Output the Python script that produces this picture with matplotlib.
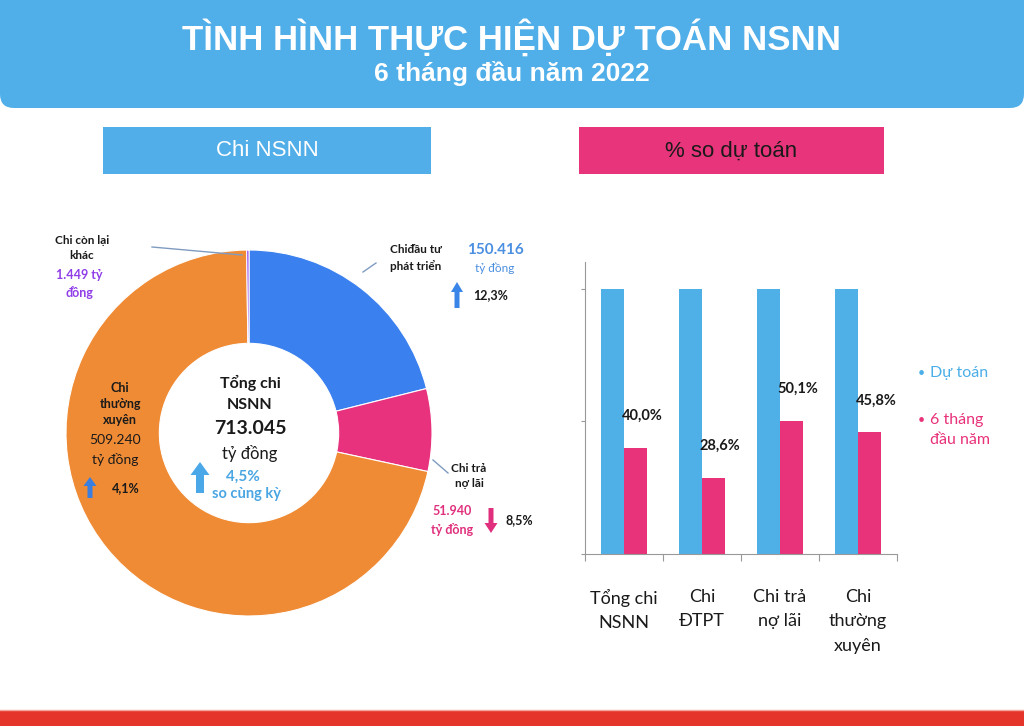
import numpy as np
import matplotlib.pyplot as plt
from matplotlib.patches import FancyBboxPatch, Rectangle, FancyArrow

plt.rcParams['font.family'] = ['Lato', 'Open Sans', 'DejaVu Sans']

# du lieu
ten_khoan_chi = ["Chi đầu tư phát triển", "Chi trả nợ lãi", "Chi thường xuyên", "Chi còn lại khác"]
gia_tri_chi = [150416, 51940, 509240, 1449]
mau_chi = ["#3b80ef", "#e8327d", "#ef8b35", "#8b3bea"]
tong_chi = 713045

nhom_cot = ["Tổng chi\nNSNN", "Chi\nĐTPT", "Chi trả\nnợ lãi", "Chi\nthường\nxuyên"]
du_toan = [100, 100, 100, 100]
sau_thang = [40.0, 28.6, 50.1, 45.8]

XANH = "#50aee9"
HONG = "#e8347a"
DEN = "#1a1a1a"

fig = plt.figure(figsize=(10.24, 7.26), dpi=100)
fig.patch.set_facecolor("white")

# lop nen, toa do pixel
nen = fig.add_axes([0, 0, 1, 1])
nen.set_xlim(0, 1024)
nen.set_ylim(726, 0)
nen.axis("off")
nen.set_zorder(10)
nen.patch.set_alpha(0)

nen.add_patch(FancyBboxPatch((0, -40), 1024, 148, boxstyle="round,pad=0,rounding_size=14",
                             fc=XANH, ec="none"))
nen.text(512, 38, "TÌNH HÌNH THỰC HIỆN DỰ TOÁN NSNN", ha="center", va="center", color="white",
         fontsize=25, fontweight="bold", family=["Liberation Sans"])
nen.text(512, 73, "6 tháng đầu năm 2022", ha="center", va="center", color="white",
         fontsize=19, fontweight="bold", family=["Liberation Sans"])

nen.add_patch(Rectangle((103, 127), 328, 47, fc="#52aee8", ec="none"))
nen.text(267, 151, "Chi NSNN", ha="center", va="center", color="white", fontsize=16,
         family=["Liberation Sans"])
nen.add_patch(Rectangle((579, 127), 305, 47, fc=HONG, ec="none"))
nen.text(731, 151, "% so dự toán", ha="center", va="center", color=DEN, fontsize=16,
         family=["Liberation Sans"])

nen.add_patch(Rectangle((0, 710), 1024, 20, fc="#e5352a", ec="none"))
nen.plot([0, 1024], [709.5, 709.5], color="#f3a59c", lw=1)

# bieu do tron
ax_tron = fig.add_axes([66 / 1024, 1 - 616 / 726, 366 / 1024, 366 / 726])
ax_tron.pie(gia_tri_chi, colors=mau_chi, startangle=90, counterclock=False,
            wedgeprops=dict(width=0.51, edgecolor="white", linewidth=0.8))
ax_tron.set_xlim(-1, 1)
ax_tron.set_ylim(-1, 1)
ax_tron.set_aspect("equal")


def so(v):
    return "{:,}".format(v).replace(",", ".")


lbl = dict(ha="center", va="center", fontsize=8.5, fontweight="bold", color=DEN, linespacing=1.5)

# chi con lai khac
nen.plot([152, 242], [247, 255], color="#7f9cc0", lw=1)
nen.text(82, 248, "Chi còn lại\nkhác", **lbl)
nen.text(79, 284, so(gia_tri_chi[3]) + " tỷ\nđồng", ha="center", va="center", fontsize=9,
         fontweight="bold", color="#8f3ee8", linespacing=1.4)

# chi dau tu phat trien
nen.plot([363, 376], [272, 263], color="#7f9cc0", lw=1)
nen.text(416, 258, "Chiđầu tư\nphát triển", **lbl)
nen.text(495, 250, so(gia_tri_chi[0]), ha="center", va="center", fontsize=11,
         fontweight="bold", color="#4b8fe0")
nen.text(495, 268, "tỷ đồng", ha="center", va="center", fontsize=8.5, color="#4b8fe0")
nen.add_patch(FancyArrow(457, 308, 0, -26, width=5, head_width=12, head_length=10,
                         length_includes_head=True, fc="#3a86e8", ec="none"))
nen.text(473, 295, "12,3%", ha="left", va="center", fontsize=9, fontweight="bold", color=DEN)

# chi tra no lai
nen.plot([433, 448], [460, 473], color="#7f9cc0", lw=1)
nen.text(469, 476, "Chi trả\nnợ lãi", **lbl)
nen.text(452, 511, so(gia_tri_chi[1]), ha="center", va="center", fontsize=9,
         fontweight="bold", color="#e0307d")
nen.text(452, 529, "tỷ đồng", ha="center", va="center", fontsize=9,
         fontweight="bold", color="#e0307d")
nen.add_patch(FancyArrow(491, 508, 0, 25, width=5, head_width=13, head_length=10,
                         length_includes_head=True, fc="#e0307d", ec="none"))
nen.text(505, 520, "8,5%", ha="left", va="center", fontsize=9, fontweight="bold", color=DEN)

# chi thuong xuyen
nen.text(120, 404, "Chi\nthường\nxuyên", ha="center", va="center", fontsize=9,
         fontweight="bold", color=DEN, linespacing=1.45)
nen.text(115, 440, so(gia_tri_chi[2]), ha="center", va="center", fontsize=10, color=DEN)
nen.text(115, 460, "tỷ đồng", ha="center", va="center", fontsize=10, color=DEN)
nen.add_patch(FancyArrow(90, 498, 0, -21, width=5, head_width=13, head_length=9,
                         length_includes_head=True, fc="#3a7fe0", ec="none"))
nen.text(112, 488, "4,1%", ha="left", va="center", fontsize=9, fontweight="bold", color=DEN)

# o giua
nen.text(250, 383, "Tổng chi", ha="center", va="center", fontsize=11.5, fontweight="bold", color=DEN)
nen.text(250, 405, "NSNN", ha="center", va="center", fontsize=11.5, fontweight="bold", color=DEN)
nen.text(250, 429, so(tong_chi), ha="center", va="center", fontsize=14, fontweight="bold", color=DEN)
nen.text(250, 454, "tỷ đồng", ha="center", va="center", fontsize=12, color=DEN)
nen.add_patch(FancyArrow(200, 493, 0, -31, width=8, head_width=19, head_length=13,
                         length_includes_head=True, fc="#4aa8e8", ec="none"))
nen.text(243, 477, "4,5%", ha="center", va="center", fontsize=11, fontweight="bold", color="#4aa6e3")
nen.text(246, 494, "so cùng kỳ", ha="center", va="center", fontsize=10.5, fontweight="bold", color="#4aa6e3")

# bieu do cot
ax = fig.add_axes([585 / 1024, 1 - 554 / 726, 312 / 1024, 292 / 726])
x = np.arange(len(nhom_cot))
w = 0.29
ax.bar(x - w / 2, du_toan, w, color="#4fb0e8")
ax.bar(x + w / 2, sau_thang, w, color="#e8327a")
for xi, v in zip(x, sau_thang):
    ax.annotate("{:.1f}%".format(v).replace(".", ","), (xi + w / 2, v), xytext=(5, 23),
                textcoords="offset points", ha="center", va="center", fontsize=10.5,
                fontweight="bold", color=DEN)
ax.set_xlim(-0.5, 3.5)
ax.set_ylim(0, 110)
ax.set_yticks([0, 50, 100])
ax.set_yticklabels([])
ax.set_xticks(np.arange(-0.5, 4, 1))
ax.set_xticklabels([])
ax.set_xticks(x, minor=True)
ax.set_xticklabels(nhom_cot, minor=True, fontsize=13, linespacing=1.65, color=DEN)
ax.tick_params(axis="x", which="minor", length=0, pad=25)
ax.tick_params(axis="x", which="major", length=5, color="#999999")
ax.tick_params(axis="y", length=3, color="#999999")
for s in ["top", "right"]:
    ax.spines[s].set_visible(False)
for s in ["left", "bottom"]:
    ax.spines[s].set_color("#999999")

# chu thich
nen.text(918, 373, "•", ha="left", va="center", fontsize=9, color="#4aaee8")
nen.text(930, 373, "Dự toán", ha="left", va="center", fontsize=11.5, color="#4aaee8")
nen.text(918, 420, "•", ha="left", va="center", fontsize=9, color="#e8327a")
nen.text(930, 430, "6 tháng\nđầu năm", ha="left", va="center", fontsize=11.5, color="#e8327a",
         linespacing=1.5)

fig.savefig("out.png", dpi=100)
